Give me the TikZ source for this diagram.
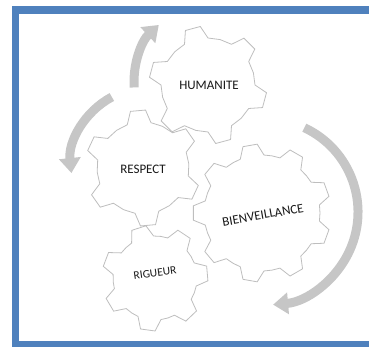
\documentclass[tikz,border=0pt]{standalone}
\usepackage{fontspec}
\setmainfont{Carlito}
\usetikzlibrary{arrows.meta,calc}
\definecolor{frameblue}{RGB}{79,129,189}
\definecolor{geargray}{RGB}{190,190,190}
\definecolor{arrowgray}{RGB}{198,198,198}
\definecolor{txtgray}{RGB}{25,25,25}
\tikzset{
  gearline/.style={draw=geargray, fill=white, line width=0.8pt, line join=miter},
  bigarrow/.style={draw=arrowgray, line width=9pt,
     -{Triangle[width=21pt,length=15pt]}},
  gearlabel/.style={text=txtgray, inner sep=0pt, font=\fontsize{13}{15}\selectfont},
}
% #1 centre, #2 teeth, #3 root radius, #4 tip radius, #5 offset (deg), #6 base half angle, #7 tip half angle
\newcommand{\drawgear}[7]{%
  \pgfmathsetmacro{\gstep}{360/#2}%
  \begin{scope}[shift={(#1)}]
  \draw[gearline] ({-#5+#2*\gstep+\gstep/2}:{#3})
    \foreach \k in {1,...,#2}{
      -- ({-#5+\k*\gstep-#6}:{#3})
      -- ({-#5+\k*\gstep-#7}:{#4})
      -- ({-#5+\k*\gstep+#7}:{#4})
      -- ({-#5+\k*\gstep+#6}:{#3})
      -- ({-#5+\k*\gstep+\gstep/2}:{#3})
    } -- cycle;
  \end{scope}}
\begin{document}
\begin{tikzpicture}[x=1pt,y=-1pt]
\useasboundingbox (0,0) rectangle (369,347);
\clip (0,0) rectangle (369,347);
% frame
\draw[frameblue, line width=7.5pt] (15.5,10) rectangle (420,345);
% centres
\coordinate (gB) at (262,213);
\coordinate (gR) at (155,278);
\coordinate (gS) at (143,168);
\coordinate (gH) at (208,85);
% gears
\drawgear{gB}{9}{58}{69}{20}{12}{6}
\drawgear{gR}{7}{42}{53}{5}{16}{8}
\drawgear{gS}{6}{46}{58}{35}{15}{7.5}
\drawgear{gH}{6}{47}{59}{45}{15}{7.5}
% labels
\node[gearlabel] (hum) at (209,85) {HUMANITE};
\node[gearlabel] (res) at (143,169) {RESPECT};
\node[gearlabel, rotate=10] (bie) at (263,215) {BIENVEILLANCE};
\node[gearlabel, rotate=8, font=\fontsize{11.5}{13}\selectfont] (rig) at (155,273) {RIGUEUR};
% arrows
\coordinate (cR) at (265,212);
\coordinate (cL) at (148,165);
\coordinate (cT) at (212,82);
\coordinate (aR) at ($(cR)+(-65:93)$);
\coordinate (aL) at ($(cL)+(-118:77)$);
\coordinate (aT) at ($(cT)+(-184:78)$);
\draw[bigarrow] (aR) arc[start angle=-65, end angle=85, radius=93];
\draw[bigarrow] (aL) arc[start angle=-118, end angle=-186, radius=77];
\draw[bigarrow] (aT) arc[start angle=-184, end angle=-133, radius=78];
\end{tikzpicture}
\end{document}
